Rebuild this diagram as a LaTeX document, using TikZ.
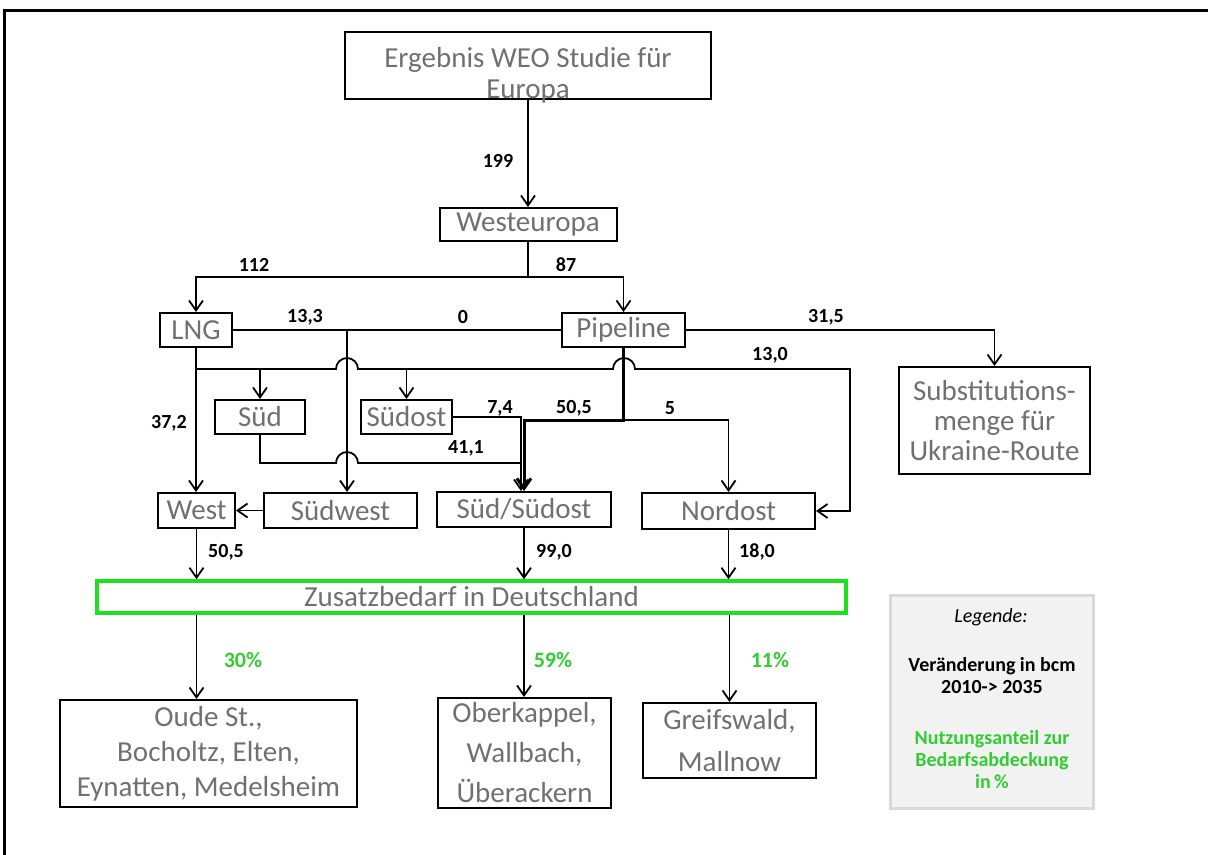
\documentclass[tikz,border=0pt]{standalone}
\usepackage{fontspec}
\setmainfont{Carlito}
\usepackage{xcolor}
\usepackage{tikz}
\usetikzlibrary{arrows.meta}

\definecolor{boxgray}{RGB}{112,112,112}
\definecolor{zgreen}{RGB}{30,225,30}
\definecolor{pctgreen}{RGB}{50,205,50}
\definecolor{legfill}{RGB}{242,242,242}
\definecolor{legline}{RGB}{217,217,217}

\begin{document}
\begin{tikzpicture}[x=0.5pt, y=-0.5pt,
        box/.style={draw, rectangle, line width=1pt, inner sep=0pt, text=boxgray, align=center, font=\fontsize{14.5}{13.5}\selectfont},
        lbl/.style={inner sep=0pt, align=center, font=\bfseries\fontsize{10}{11}\selectfont},
        pct/.style={lbl, text=pctgreen},
        link/.style={line width=0.9pt},
        arr/.style={link, -{Straight Barb[length=5pt,width=7pt]}}]
        \useasboundingbox (0,0) rectangle (1208,855);
        \draw[line width=1.5pt] (4,855) -- (4,11) -- (1208,11);

        % Nodes
        \node (ergebnis) [box, minimum width=183pt, minimum height=33.5pt] at (528,65.5) {};
        \node (ergebnistext) [inner sep=0pt, text=boxgray, align=center, font=\fontsize{14.5}{15.5}\selectfont] at (528,75) {Ergebnis WEO Studie für\\Europa};
        \node (westeuropa) [box, minimum width=88.5pt, minimum height=16.5pt] at (528,224.5) {Westeuropa};
        \node (lng) [box, minimum width=36pt, minimum height=17pt] at (196,330) {LNG};
        \node (pipeline) [box, minimum width=61.5pt, minimum height=17pt] at (623.5,330) {Pipeline};
        \node (substitution) [box, minimum width=95.5pt, minimum height=53.5pt, font=\fontsize{14.5}{15}\selectfont] at (994.5,420.5) {Substitutions-\\menge für\\Ukraine-Route};
        \node (sued) [box, minimum width=45pt, minimum height=17pt] at (260,417) {Süd};
        \node (suedost) [box, minimum width=45.5pt, minimum height=17pt] at (406.5,417) {Südost};
        \node (west) [box, minimum width=38.5pt, minimum height=17.5pt] at (196.5,510.5) {West};
        \node (suedwest) [box, minimum width=76.5pt, minimum height=17.5pt] at (340.5,510.5) {Südwest};
        \node (suedsuedost) [box, minimum width=87pt, minimum height=17.5pt] at (524,509.5) {Süd/Südost};
        \node (nordost) [box, minimum width=86.5pt, minimum height=18pt] at (728.5,511) {Nordost};
        \node (zusatz) [box, draw=zgreen, line width=1.75pt, minimum width=374.5pt, minimum height=16pt] at (471.5,597) {Zusatzbedarf in Deutschland};
        \node (oude) [box, minimum width=148.5pt, minimum height=53.5pt, font=\fontsize{14.5}{17.5}\selectfont] at (208.5,753.5) {Oude St.,\\Bocholtz, Elten,\\Eynatten, Medelsheim};
        \node (oberkappel) [box, minimum width=86.5pt, minimum height=55pt, font=\fontsize{14.5}{20}\selectfont] at (524.5,753) {Oberkappel,\\Wallbach,\\Überackern};
        \node (greifswald) [box, minimum width=86.5pt, minimum height=37.5pt, font=\fontsize{14.5}{21}\selectfont] at (729.5,740.5) {Greifswald,\\Mallnow};

        % Legend
        \node (legende) [draw=legline, fill=legfill, line width=1.5pt, minimum width=101.5pt, minimum height=106.5pt] at (991.5,701.5) {};
        \node (legtitle) [inner sep=0pt, font=\itshape\fontsize{10}{11}\selectfont] at (991,617) {Legende:};
        \node (legbcm) [lbl] at (992,676) {Veränderung in bcm\\2010-> 2035};
        \node (legpct) [pct] at (992,760) {Nutzungsanteil zur\\Bedarfsabdeckung\\in\,\%};

        % Arrows
        \coordinate (wsplit) at (528,277);
        \draw[arr] (ergebnis.south) -- (westeuropa.north);
        \draw[link] (westeuropa.south) -- (wsplit);
        \draw[arr] (wsplit) -| (lng.north);
        \draw[arr] (wsplit) -| (pipeline.north);
        \draw[link] (lng.east) -- (pipeline.west);
        \coordinate (swtap) at (347,330);
        \draw[arr] (swtap) -- (swtap |- suedwest.north);
        \draw[arr] (pipeline.east) -| (substitution.north);
        \draw[arr] (lng.south) -- (lng.south |- west.north);

        % LNG branch, jumping over the two verticals
        \coordinate (lngtap) at (196,369);
        \draw[arr] (lngtap) -- (336,369) arc[start angle=180, end angle=360, radius=11] -- (613,369) arc[start angle=180, end angle=360, radius=11] -- (850,369) |- (nordost.east);
        \draw[arr] (sued.north |- lngtap) -- (sued.north);
        \draw[arr] (suedost.north |- lngtap) -- (suedost.north);

        % Pipeline branch
        \coordinate (pipesplit) at (623.5,420);
        \draw[arr, line width=1.5pt] (pipeline.south) -- (pipesplit) -| (suedsuedost.north);
        \draw[arr] (pipesplit) -| (nordost.north);

        % Süd and Südost into Süd/Südost
        \coordinate (sojoin) at ([xshift=-1.5pt]suedsuedost.north);
        \draw[arr] (suedost.east) -| (sojoin);
        \draw[link] (sued.south) |- (336,463) arc[start angle=180, end angle=360, radius=11] -- (sojoin |- 0,463);
        \draw[arr] (suedwest.west) -- (west.east);

        % into and out of Zusatzbedarf
        \draw[arr] (west.south) -- (west.south |- zusatz.north);
        \draw[arr] (suedsuedost.south) -- (suedsuedost.south |- zusatz.north);
        \draw[arr] (nordost.south) -- (nordost.south |- zusatz.north);
        \draw[arr] (zusatz.south -| west.south) -- (west.south |- oude.north);
        \draw[arr] (zusatz.south -| suedsuedost.south) -- (suedsuedost.south |- oberkappel.north);
        \draw[arr] (zusatz.south -| greifswald.north) -- (greifswald.north);

        % Labels
        \node (l199) [lbl] at (498,161) {199};
        \node (l112) [lbl] at (254,265) {112};
        \node (l87) [lbl] at (566,265) {87};
        \node (l133) [lbl] at (305,317) {13,3};
        \node (l0) [lbl] at (463,317) {0};
        \node (l315) [lbl] at (826,317) {31,5};
        \node (l130) [lbl] at (770,355) {13,0};
        \node (l372) [lbl] at (169,423) {37,2};
        \node (l74) [lbl] at (500,408) {7,4};
        \node (l505a) [lbl] at (574,408) {50,5};
        \node (l5) [lbl] at (670,408) {5};
        \node (l411) [lbl] at (466,448) {41,1};
        \node (l505b) [lbl] at (226,552) {50,5};
        \node (l990) [lbl] at (554,552) {99,0};
        \node (l180) [lbl] at (757,552) {18,0};
        \node (p30) [pct, font=\bfseries\fontsize{11}{12}\selectfont] at (243,660) {30\%};
        \node (p59) [pct, font=\bfseries\fontsize{11}{12}\selectfont] at (553,660) {59\%};
        \node (p11) [pct, font=\bfseries\fontsize{11}{12}\selectfont] at (770,660) {11\%};
    \end{tikzpicture}
\end{document}
